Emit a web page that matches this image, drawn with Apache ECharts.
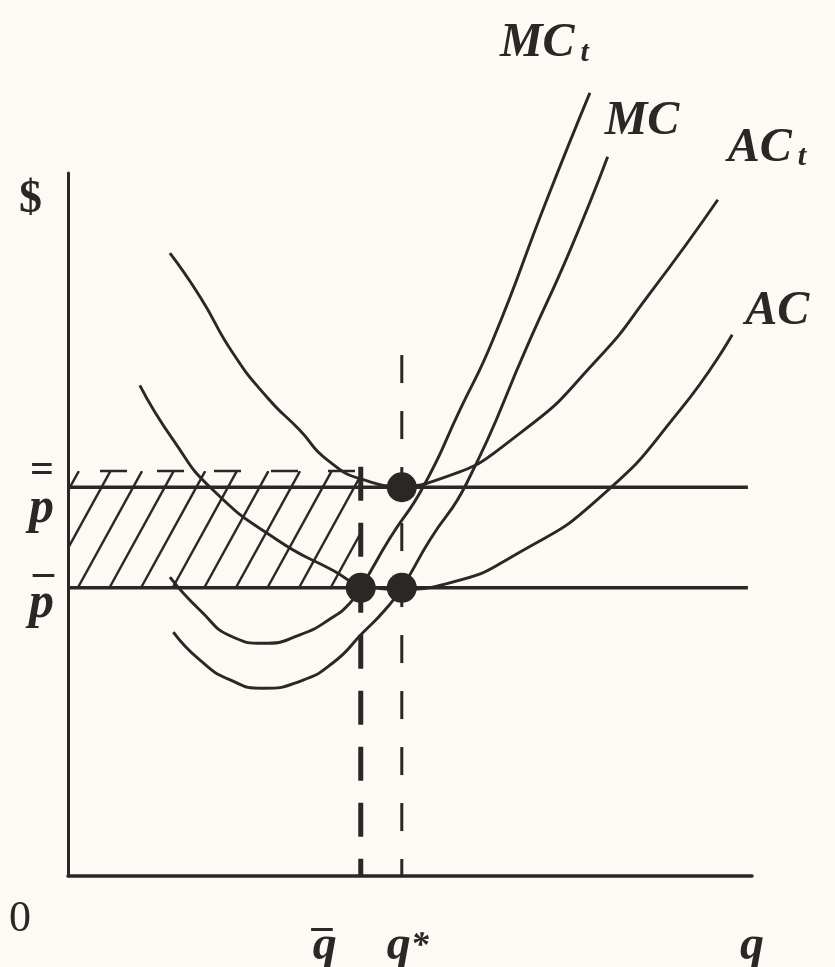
<!DOCTYPE html>
<html>
<head>
<meta charset="utf-8">
<script src="https://cdn.jsdelivr.net/npm/echarts@6/dist/echarts.min.js"></script>
<style>
  html, body { margin: 0; padding: 0; background: #fbfaf4; }
  #chart { width: 835px; height: 967px; }
</style>
</head>
<body>
<div id="chart"></div>
<script>
// quantity axis runs 0..10, price axis 0..10 (diagram units)
const Q_BAR = 4.28;
const Q_STAR = 4.88;
const P_LOW = 4.10;    // p bar
const P_HIGH = 5.53;   // p double bar
const HATCH_TOP = 5.76;
const Q_STAR_TOP = 7.41;
const Q_BAR_TOP = 5.82;

const priceLineEnd = 9.94;
const highStub = [10.58, 10.96];
const lowStub = [10.70, 11.11];

// cost curves, [q, $]
const acTaxed = [[1.49, 8.86], [1.93, 8.24], [2.41, 7.44], [2.91, 6.81], [3.39, 6.34], [3.79, 5.92],
  [4.34, 5.63], [4.85, 5.55], [5.44, 5.65], [6.61, 6.30], [7.73, 7.34], [8.51, 8.29], [9.50, 9.62]];
const acCurve = [[1.05, 6.98], [1.54, 6.20], [2.12, 5.49], [3.06, 4.78], [3.87, 4.35], [4.30, 4.14],
  [4.88, 4.08], [5.58, 4.17], [6.61, 4.61], [7.78, 5.39], [8.95, 6.63], [9.71, 7.70]];
const mcTaxed = [[1.49, 4.25], [1.93, 3.78], [2.41, 3.40], [2.85, 3.31], [3.39, 3.43], [3.87, 3.68],
  [4.12, 3.88], [4.28, 4.10], [4.71, 4.81], [5.19, 5.53], [5.73, 6.63], [6.21, 7.62], [7.00, 9.62], [7.63, 11.14]];
const mcCurve = [[1.54, 3.47], [1.93, 3.07], [2.37, 2.79], [2.85, 2.67], [3.39, 2.77], [3.87, 3.03],
  [4.31, 3.46], [4.63, 3.78], [4.88, 4.10], [5.29, 4.78], [5.83, 5.59], [6.75, 7.62], [7.34, 8.90], [7.89, 10.23]];

const eqPoints = [[Q_BAR, P_LOW], [Q_STAR, P_LOW], [Q_STAR, P_HIGH]];

const xTicks = [0, Q_BAR, Q_STAR, 10];
const xTickText = ['0', 'q̄', 'q*', 'q'];
const yTicks = [P_LOW, P_HIGH];
const yTickText = ['p̄', 'p̿'];

const ink = '#2b2724';
const serif = '"Liberation Serif", "DejaVu Serif", serif';

const chart = echarts.init(document.getElementById('chart'));

const labelFont = { color: ink, fontFamily: serif, fontWeight: 'bold', fontStyle: 'italic' };

// q-labels under the axis, written as rich text so the bars sit where the book has them
const xRich = {
  zero: { color: ink, fontFamily: serif, fontSize: 44, lineHeight: 70, padding: [0, 96, 0, 0] },
  q: { ...labelFont, fontSize: 48, lineHeight: 126 },
  qs: { ...labelFont, fontSize: 48, lineHeight: 126, padding: [0, 0, 0, 12] },
  star: { ...labelFont, fontSize: 36, lineHeight: 126 },
  barL: { ...labelFont, fontSize: 42, lineHeight: 60, padding: [0, 72, 0, 0] },
  qb: { ...labelFont, fontSize: 48, lineHeight: 6, padding: [0, 72, 0, 0] }
};
const xFormat = (v) => {
  const t = xTickText[xTicks.indexOf(v)];
  if (t === '0') return '{zero|0}';
  if (t === 'q̄') return '{barL|_}\n{qb|q}';
  if (t === 'q*') return '{qs|q}{star|*}';
  return '{q|' + t + '}';
};

const yRich = {
  dbl: { color: ink, fontFamily: serif, fontWeight: 'bold', fontSize: 42, lineHeight: 44 },
  bar: { color: ink, fontFamily: serif, fontWeight: 'bold', fontSize: 42, lineHeight: 32 },
  p: { ...labelFont, fontSize: 50, lineHeight: 33 },
  p2: { ...labelFont, fontSize: 50, lineHeight: 55 }
};
const yFormat = (v) => {
  const t = yTickText[yTicks.indexOf(v)];
  if (t === 'p̿') return '{dbl|=}\n{p|p}';
  return '{bar|_}\n{p2|p}';
};

const curveRich = {
  m: { ...labelFont, fontSize: 48, lineHeight: 48 },
  s: { ...labelFont, fontSize: 30, lineHeight: 14, verticalAlign: 'bottom', padding: [0, 0, 0, 6] }
};
const costCurve = (name, data, taxed, offset) => ({
  type: 'line',
  name: name,
  data: data,
  smooth: 0.55,
  symbol: 'none',
  clip: false,
  lineStyle: { color: ink, width: 2.9 },
  endLabel: {
    show: true,
    distance: 0,
    offset: offset,
    formatter: taxed ? '{m|' + name + '}{s|t}' : '{m|' + name + '}',
    rich: curveRich
  },
  z: 3
});

const flatLine = (data, width) => ({
  type: 'line',
  data: data,
  symbol: 'none',
  clip: false,
  lineStyle: { color: ink, width: width },
  z: 2
});

const option = {
  backgroundColor: '#fbfaf4',
  animation: false,
  grid: { left: 68, top: 173, width: 684, height: 703, outerBoundsMode: 'none' },
  xAxis: {
    type: 'value', min: 0, max: 10,
    axisLine: { lineStyle: { color: ink, width: 3.5 } },
    axisTick: { show: false },
    splitLine: { show: false },
    axisLabel: { customValues: xTicks, margin: 8, formatter: xFormat, rich: xRich }
  },
  yAxis: {
    type: 'value', min: 0, max: 10,
    name: '$',
    nameLocation: 'end',
    nameGap: -4,
    nameTextStyle: { color: ink, fontFamily: serif, fontWeight: 'bold', fontSize: 46, align: 'right', verticalAlign: 'top', padding: [0, 26, 0, 0] },
    axisLine: { lineStyle: { color: ink, width: 3 } },
    axisTick: { show: false },
    splitLine: { show: false },
    axisLabel: { customValues: yTicks, margin: 14, formatter: yFormat, rich: yRich }
  },
  series: [
    {
      // hatched band between the two prices, left of q bar
      type: 'custom',
      data: [[0, P_LOW]],
      z: 1,
      renderItem: (params, api) => {
        const bl = api.coord([0, P_LOW]);
        const tr = api.coord([Q_BAR, HATCH_TOP]);
        const x0 = bl[0], x1 = tr[0], yb = bl[1], yt = tr[1];
        const lean = (yb - yt) * 0.55;
        const strokes = [];
        for (let x = x0 + 12 - lean - 32 * 3; x < x1; x += 31.6) {
          strokes.push({
            type: 'line',
            shape: { x1: x, y1: yb, x2: x + lean, y2: yt },
            style: { stroke: ink, lineWidth: 2.4 }
          });
        }
        return {
          type: 'group',
          children: [
            {
              type: 'group',
              children: strokes,
              clipPath: { type: 'rect', shape: { x: x0, y: yt, width: x1 - x0, height: yb - yt } }
            },
            {
              type: 'line',
              shape: { x1: x0 + 32, y1: yt, x2: x1, y2: yt },
              style: { stroke: ink, lineWidth: 2.6, lineDash: [27, 30] }
            }
          ]
        };
      }
    },
    flatLine([[0, P_HIGH], [priceLineEnd, P_HIGH]], 3.6),
    flatLine([[0, P_LOW], [priceLineEnd, P_LOW]], 3.6),
    flatLine([[highStub[0], P_HIGH], [highStub[1], P_HIGH]], 3.2),
    flatLine([[lowStub[0], P_LOW], [lowStub[1], P_LOW]], 3.2),
    costCurve('MC', mcTaxed, true, [-90, -49]),
    costCurve('MC', mcCurve, false, [-3, -35]),
    costCurve('AC', acTaxed, true, [10, -51]),
    costCurve('AC', acCurve, false, [13, -23]),
    {
      type: 'line',
      data: [[Q_STAR, Q_STAR_TOP], [Q_STAR, 0]],
      symbol: 'none',
      lineStyle: { color: ink, width: 3, type: [28, 28] },
      z: 2
    },
    {
      type: 'line',
      data: [[Q_BAR, Q_BAR_TOP], [Q_BAR, 0]],
      symbol: 'none',
      lineStyle: { color: ink, width: 5, type: [34, 22] },
      z: 2
    },
    {
      type: 'scatter',
      data: eqPoints,
      symbol: 'circle',
      symbolSize: 30,
      itemStyle: { color: ink, opacity: 1 },
      z: 4
    }
  ]
};

chart.setOption(option);
</script>
</body>
</html>
